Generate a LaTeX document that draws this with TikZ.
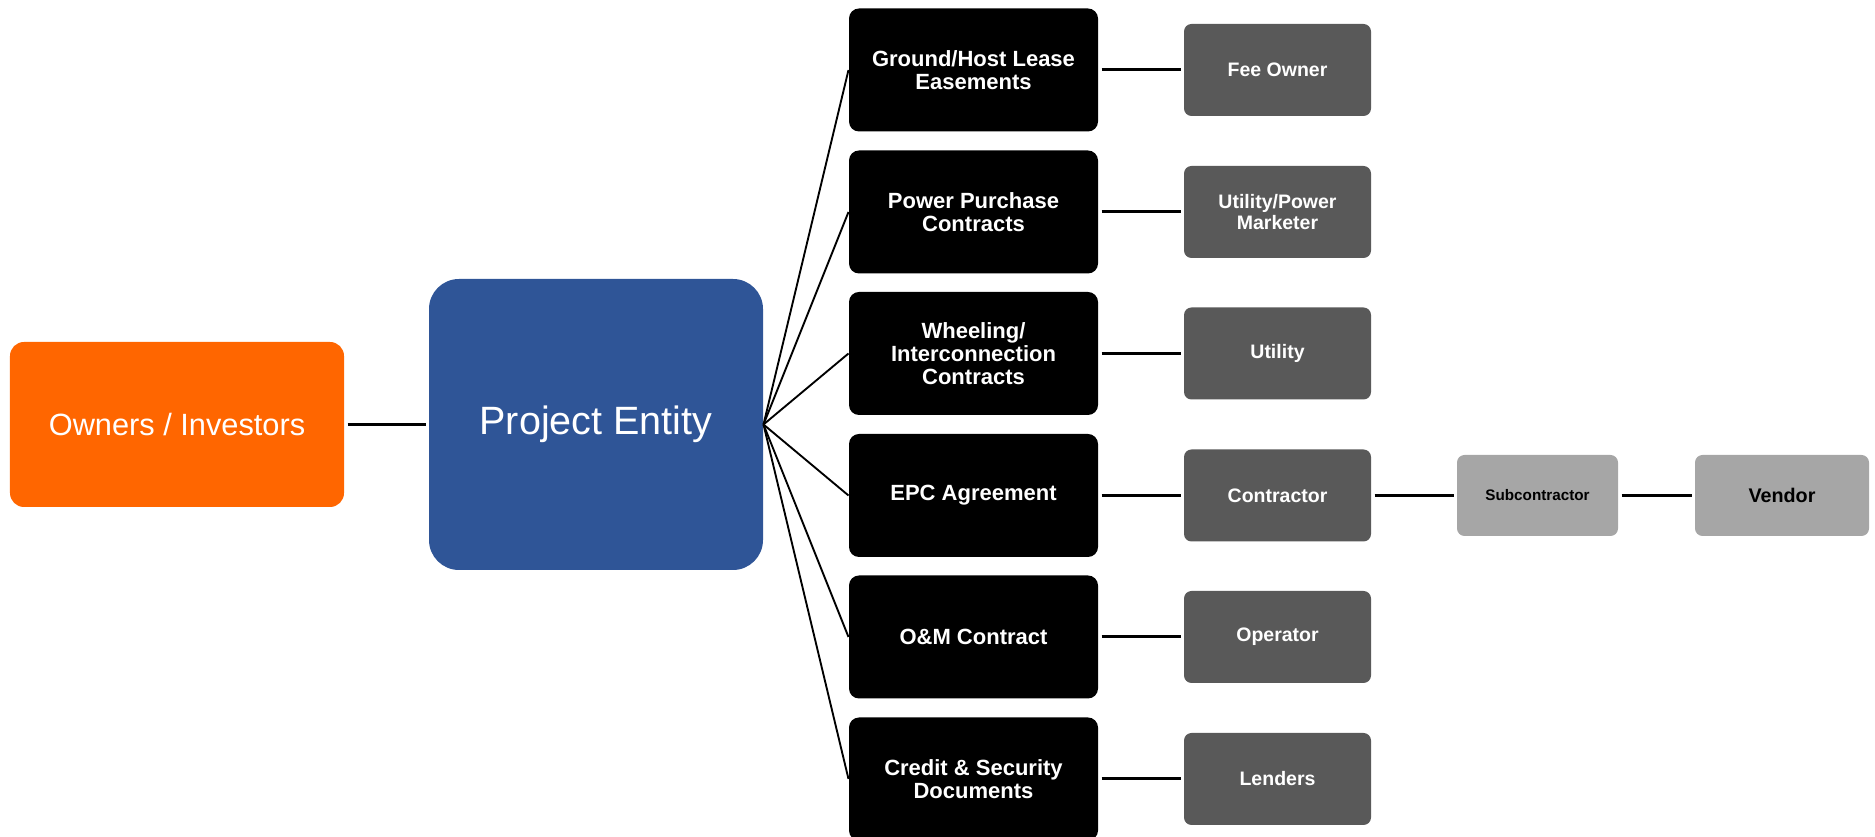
\documentclass[tikz,border=0pt]{standalone}
\usepackage{fontspec}
\setmainfont{Liberation Sans}
\definecolor{orng}{HTML}{FF6600}
\definecolor{pblue}{HTML}{2F5597}
\definecolor{dgrey}{HTML}{595959}
\definecolor{lgrey}{HTML}{A6A6A6}
\begin{document}
\begin{tikzpicture}[x=0.4pt,y=-0.4pt,
  box/.style={inner sep=0pt, align=center},
  owner/.style={box, fill=orng, minimum width=133.6pt, minimum height=66pt, rounded corners=5.6pt, text=white, font=\fontsize{12.3}{14}\selectfont},
  entity/.style={box, fill=pblue, minimum width=133.6pt, minimum height=116.4pt, rounded corners=12pt, text=white, font=\fontsize{15.8}{18}\selectfont},
  contract/.style={box, fill=black, minimum width=99.6pt, minimum height=49.2pt, rounded corners=4pt, text=white, font=\bfseries\fontsize{8.8}{9.2}\selectfont},
  party/.style={box, fill=dgrey, minimum width=74.8pt, minimum height=36.8pt, rounded corners=3pt, text=white, font=\bfseries\fontsize{7.8}{8.6}\selectfont},
  subbox/.style={box, fill=lgrey, minimum width=64.4pt, minimum height=32.4pt, rounded corners=3pt, text=black, font=\bfseries\fontsize{6.1}{7}\selectfont},
  vendbox/.style={box, fill=lgrey, minimum width=69.6pt, minimum height=32.4pt, rounded corners=3pt, text=black, font=\bfseries\fontsize{7.9}{9}\selectfont},
  conn/.style={draw=black, line width=1.2pt},
  fan/.style={draw=black, line width=0.75pt}
]
\useasboundingbox (0,0) rectangle (1875,837);

\node[owner] (own) at (177,424.5) {Owners / Investors};
\node[entity] (pe) at (596,424.5) {Project Entity};

\node[contract] (c1) at (973.5,70) {Ground/Host Lease\\Easements};
\node[contract] (c2) at (973.5,212) {Power Purchase\\Contracts};
\node[contract] (c3) at (973.5,353.5) {Wheeling/\\Interconnection\\Contracts};
\node[contract] (c4) at (973.5,495.5) {EPC Agreement};
\node[contract] (c5) at (973.5,637) {O\&M Contract};
\node[contract] (c6) at (973.5,779) {Credit \& Security\\Documents};

\node[party] (p1) at (1277.5,70) {Fee Owner};
\node[party] (p2) at (1277.5,212) {Utility/Power\\Marketer};
\node[party] (p3) at (1277.5,353.5) {Utility};
\node[party] (p4) at (1277.5,495.5) {Contractor};
\node[party] (p5) at (1277.5,637) {Operator};
\node[party] (p6) at (1277.5,779) {Lenders};

\node[subbox] (sub) at (1537.5,495.5) {Subcontractor};
\node[vendbox] (ven) at (1782,495.5) {Vendor};

\draw[conn] ([xshift=1.2pt]own.east) -- ([xshift=-1.2pt]pe.west);
\foreach \i in {1,...,6} {
  \draw[fan] (pe.east) -- (c\i.west);
  \draw[conn] ([xshift=1.2pt]c\i.east) -- ([xshift=-1.2pt]p\i.west);
}
\draw[conn] ([xshift=1.2pt]p4.east) -- ([xshift=-1.2pt]sub.west);
\draw[conn] ([xshift=1.2pt]sub.east) -- ([xshift=-1.2pt]ven.west);
\end{tikzpicture}
\end{document}
